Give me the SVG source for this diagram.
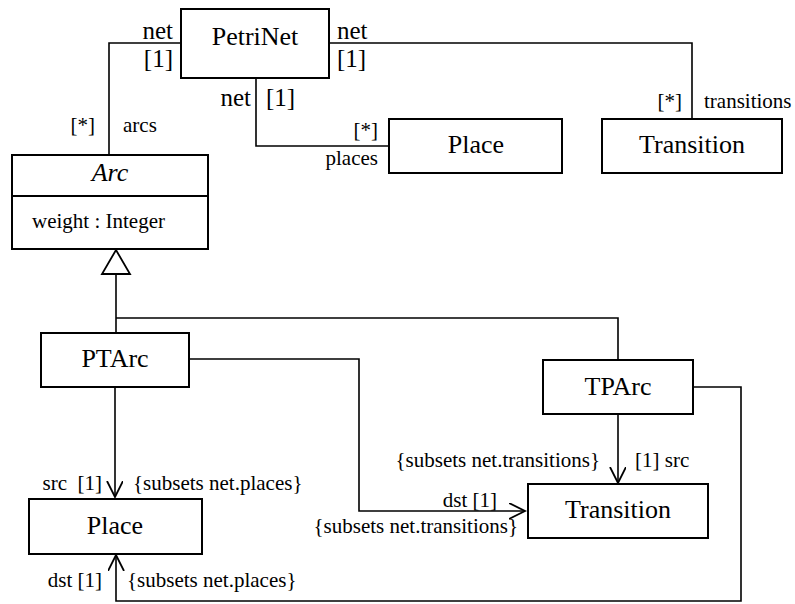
<svg xmlns="http://www.w3.org/2000/svg" width="795" height="604" viewBox="0 0 795 604" font-family="'Liberation Serif', 'Times New Roman', serif">
<style>
.box{fill:#fff;stroke:#000;stroke-width:2}
.ln{fill:none;stroke:#000;stroke-width:1.6}
.cls{font-size:26px;text-anchor:middle}
.lb{font-size:25px}
.sm{font-size:21px}
.e{text-anchor:end}
</style>
<defs>
<marker id="open" markerWidth="20" markerHeight="20" refX="16" refY="8" orient="auto" markerUnits="userSpaceOnUse">
<path d="M0,0 L16,8 L0,16" fill="none" stroke="#000" stroke-width="1.8"/>
</marker>
</defs>
<rect width="795" height="604" fill="#fff"/>
<g id="connectors">
<polyline class="ln" points="181,43 109,43 109,155"/>
<polyline class="ln" points="256,78 256,146 389,146"/>
<polyline class="ln" points="329,43 692,43 692,119"/>
<polyline class="ln" points="116,332 116,274"/>
<polygon points="116,250 130,274 102,274" fill="#fff" stroke="#000" stroke-width="1.8"/>
<polyline class="ln" points="116,318 618,318 618,360"/>
<line class="ln" x1="115" y1="387" x2="115" y2="497" marker-end="url(#open)"/>
<polyline class="ln" points="189,359 359,359 359,511 525,511" marker-end="url(#open)"/>
<line class="ln" x1="618" y1="414" x2="618" y2="483" marker-end="url(#open)"/>
<polyline class="ln" points="693,387 741,387 741,601 116,601 116,555" marker-end="url(#open)"/>
<text class="lb e" x="173" y="39">net</text>
<text class="lb e" x="173" y="67">[1]</text>
<text class="sm e" x="95" y="132">[*]</text>
<text class="sm" x="123" y="132">arcs</text>
<text class="lb e" x="251" y="106">net</text>
<text class="lb" x="266" y="106">[1]</text>
<text class="sm e" x="378" y="137">[*]</text>
<text class="sm e" x="378" y="165">places</text>
<text class="lb" x="337" y="39">net</text>
<text class="lb" x="337" y="67">[1]</text>
<text class="sm e" x="682" y="108">[*]</text>
<text class="sm" x="704" y="108">transitions</text>
<text class="sm e" x="102" y="490" xml:space="preserve">src  [1]</text>
<text class="sm" x="133" y="490">{subsets net.places}</text>
<text class="sm e" x="102" y="587">dst [1]</text>
<text class="sm" x="127" y="587">{subsets net.places}</text>
<text class="sm e" x="600" y="467">{subsets net.transitions}</text>
<text class="sm" x="635" y="467">[1] src</text>
<text class="sm e" x="497" y="507">dst [1]</text>
<text class="sm e" x="518" y="533">{subsets net.transitions}</text>
</g>
<g id="PetriNet">
<rect class="box" x="181" y="9" width="148" height="69"/>
<text class="cls" x="255" y="45">PetriNet</text>
</g>
<g id="Arc">
<rect class="box" x="12" y="155" width="196" height="94"/>
<line class="box" x1="12" y1="196" x2="208" y2="196"/>
<text class="cls" x="110" y="181" font-style="italic">Arc</text>
<text class="sm" x="32" y="228">weight : Integer</text>
</g>
<g id="PlaceTop">
<rect class="box" x="389" y="119" width="173" height="54"/>
<text class="cls" x="476" y="153">Place</text>
</g>
<g id="TransitionTop">
<rect class="box" x="602" y="119" width="180" height="54"/>
<text class="cls" x="692" y="153">Transition</text>
</g>
<g id="PTArc">
<rect class="box" x="41" y="333" width="148" height="54"/>
<text class="cls" x="115" y="367">PTArc</text>
</g>
<g id="TPArc">
<rect class="box" x="543" y="360" width="150" height="54"/>
<text class="cls" x="618" y="395">TPArc</text>
</g>
<g id="TransitionBottom">
<rect class="box" x="528" y="484" width="180" height="54"/>
<text class="cls" x="618" y="518">Transition</text>
</g>
<g id="PlaceBottom">
<rect class="box" x="29" y="499" width="173" height="55"/>
<text class="cls" x="115" y="534">Place</text>
</g>
</svg>
